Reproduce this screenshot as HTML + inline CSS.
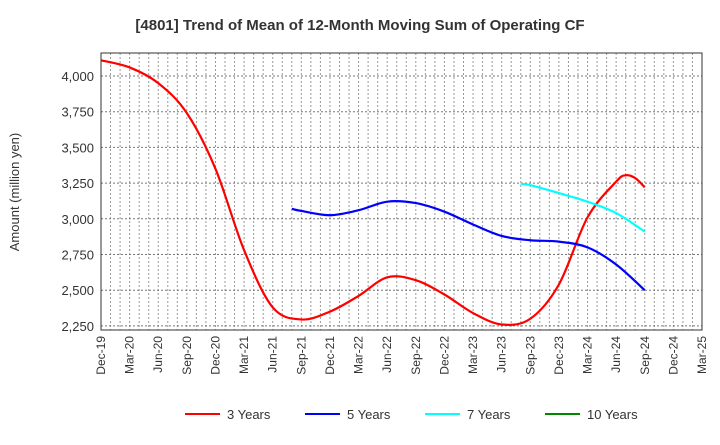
<!DOCTYPE html>
<html><head><meta charset="utf-8"><style>
body{margin:0;background:#fff;width:720px;height:440px;overflow:hidden}
svg{font-family:"Liberation Sans",sans-serif}
</style></head><body>
<svg id="c" width="720" height="440"></svg>
<script>
const xLabels=["Dec-19","Mar-20","Jun-20","Sep-20","Dec-20","Mar-21","Jun-21","Sep-21","Dec-21","Mar-22","Jun-22","Sep-22","Dec-22","Mar-23","Jun-23","Sep-23","Dec-23","Mar-24","Jun-24","Sep-24","Dec-24","Mar-25"];
const yTicks=[2250,2500,2750,3000,3250,3500,3750,4000];
const red3M=[0,3,6,9,12,15,18,21,24,27,30,33,36,39,42,45,48,51,54,55,56,57];
const red3V=[4110,4060,3950,3740,3350,2780,2380,2295,2350,2460,2590,2570,2470,2340,2260,2300,2540,3010,3260,3305,3285,3220];
const blue5M=[20,21,24,27,30,33,36,39,42,45,48,51,54,57];
const blue5V=[3070,3055,3025,3060,3120,3110,3050,2960,2880,2850,2840,2800,2680,2500];
const cyan7M=[44,45,48,51,54,57];
const cyan7V=[3245,3235,3180,3120,3040,2910];
const green10M=[];const green10V=[];
const L=101,R=702,T=53,B=330,NS="http://www.w3.org/2000/svg";
const x=m=>L+m*(R-L)/63;
const y=v=>76+(4000-v)*35.7/250;
const svg=document.getElementById('c');
function el(t,a,txt){const e=document.createElementNS(NS,t);for(const k in a)e.setAttribute(k,a[k]);if(txt!=null)e.textContent=txt;svg.appendChild(e);return e;}
let t=el('text',{x:360,y:30,'text-anchor':'middle','font-size':15,'font-weight':'bold',fill:'#333'},'[4801]  Trend of Mean of 12-Month Moving Sum of Operating CF');

for(let m=1;m<63;m++){let g=el('line',{x1:x(m),x2:x(m),y1:T,y2:B,stroke:'#999','stroke-dasharray':'2,2','stroke-width':1});
}
yTicks.forEach(v=>{let g=el('line',{x1:L,x2:R,y1:y(v),y2:y(v),stroke:'#777','stroke-dasharray':'2,2','stroke-width':1});

let s=el('text',{x:L-7,y:y(v)+5,'text-anchor':'end','font-size':13,fill:'#333'},v.toLocaleString('en-US'));
});
xLabels.forEach((lb,i)=>{const px=x(i*3);let s=el('text',{x:px+4,y:B+6,'text-anchor':'end','font-size':12,fill:'#333',transform:`rotate(-90 ${px+4} ${B+6})`},lb);
});
let r=el('rect',{x:L,y:T,width:R-L,height:B-T,fill:'none',stroke:'#333','stroke-width':1});

let yt=el('text',{x:19,y:192,'text-anchor':'middle','font-size':13,fill:'#333',transform:'rotate(-90 19 192)'},'Amount (million yen)');

function path(M,V){if(!M.length)return '';const p=M.map((m,i)=>[x(m),y(V[i])]);let d=`M${p[0][0]},${p[0][1]}`;
for(let i=0;i<p.length-1;i++){const p0=p[Math.max(0,i-1)],p1=p[i],p2=p[i+1],p3=p[Math.min(p.length-1,i+2)];
d+=` C${p1[0]+(p2[0]-p0[0])/6},${p1[1]+(p2[1]-p0[1])/6} ${p2[0]-(p3[0]-p1[0])/6},${p2[1]-(p3[1]-p1[1])/6} ${p2[0]},${p2[1]}`;}return d;}
[[red3M,red3V,'#f00','series-3-years'],[blue5M,blue5V,'#00f','series-5-years'],[cyan7M,cyan7V,'#0ff','series-7-years'],[green10M,green10V,'#080','series-10-years']].forEach(s=>{
if(!s[0].length)return;let p=el('path',{d:path(s[0],s[1]),fill:'none',stroke:s[2],'stroke-width':2.2});
});
[['3 Years','#f00',185],['5 Years','#00f',305],['7 Years','#0ff',425],['10 Years','#080',545]].forEach(l=>{
let a=el('line',{x1:l[2],x2:l[2]+35,y1:414,y2:414,stroke:l[1],'stroke-width':2});
let b=el('text',{x:l[2]+42,y:419,'font-size':13,fill:'#333'},l[0]);});
</script>
</body></html>
